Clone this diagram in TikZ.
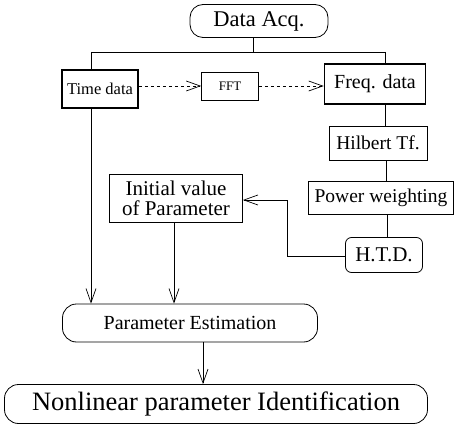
\documentclass[tikz,border=0pt]{standalone}
\usepackage{fontspec}
\setmainfont{Liberation Serif}
\usetikzlibrary{arrows.meta}
\begin{document}
\begin{tikzpicture}[x=1pt,y=-1pt,
  box/.style={draw, line width=0.8pt, inner sep=0pt, align=center},
  thickbox/.style={box, line width=1.6pt},
  roundbox/.style={box, rounded corners=#1},
  conn/.style={line width=0.8pt},
  arr/.style={conn, -{Straight Barb[length=14pt,width=10pt,line width=0.7pt]}},
  darr/.style={arr, dashed}]
\useasboundingbox (0,0) rectangle (458,425);
\node[roundbox=13pt, minimum width=138pt, minimum height=33pt, font=\fontsize{22.5}{26}\selectfont] (acq) at (259,21) {Data Acq.};
\node[thickbox, minimum width=76pt, minimum height=38pt, font=\fontsize{16.5}{19}\selectfont] (time) at (100,89) {Time data};
\node[box, line width=0.6pt, minimum width=57pt, minimum height=28pt, font=\fontsize{13}{15}\selectfont] (fft) at (230,86) {FFT};
\node[thickbox, minimum width=101pt, minimum height=40pt, font=\fontsize{20}{23}\selectfont] (freq) at (375,84) {Freq. data};
\node[box, minimum width=98pt, minimum height=34pt, font=\fontsize{19.5}{22}\selectfont] (hilb) at (378,143) {Hilbert Tf.};
\node[box, minimum width=145pt, minimum height=33pt, font=\fontsize{19.5}{22}\selectfont] (pow) at (381,198) {Power weighting};
\node[roundbox=6pt, minimum width=77pt, minimum height=35pt, font=\fontsize{21}{24}\selectfont] (htd) at (384,255) {H.T.D.};
\node[box, minimum width=133pt, minimum height=48pt, font=\fontsize{21}{20}\selectfont] (init) at (176,198) {Initial value\\of Parameter};
\node[roundbox=14pt, minimum width=255pt, minimum height=38pt, font=\fontsize{20}{23}\selectfont] (pest) at (190,323) {Parameter Estimation};
\node[roundbox=14pt, minimum width=423pt, minimum height=39pt, font=\fontsize{26.5}{30}\selectfont] (nlin) at (216,404) {Nonlinear parameter Identification};
\coordinate (split) at (253,52);
\coordinate (bl) at (91,52);
\coordinate (br) at (385,52);
\coordinate (bend1) at (287,256);
\coordinate (bend2) at (287,200);
% tree from Data Acq.
\draw[conn] (acq.south -| split) -- (split);
\draw[conn] (bl) -- (br);
\draw[conn] (bl) -- (bl |- time.north);
\draw[conn] (br) -- (br |- freq.north);
% FFT chain
\draw[darr] (time.east |- fft.west) -- (fft.west);
\draw[darr] (fft.east) -- (freq.west |- fft.east);
% right column
\draw[conn] (freq.south -| br) -- (hilb.north -| br);
\draw[conn] (hilb.south -| 386,0) -- (pow.north -| 386,0);
\draw[conn] (pow.south -| 387,0) -- (htd.north -| 387,0);
% H.T.D. feedback
\draw[arr] (htd.west |- bend1) -- (bend1) -- (bend2) -- (init.east |- bend2);
% into Parameter Estimation
\draw[arr] (time.south -| bl) -- (pest.north -| bl);
\draw[arr] (init.south -| 174,0) -- (pest.north -| 174,0);
\draw[arr] (pest.south -| 203,0) -- (nlin.north -| 203,0);
\end{tikzpicture}
\end{document}
